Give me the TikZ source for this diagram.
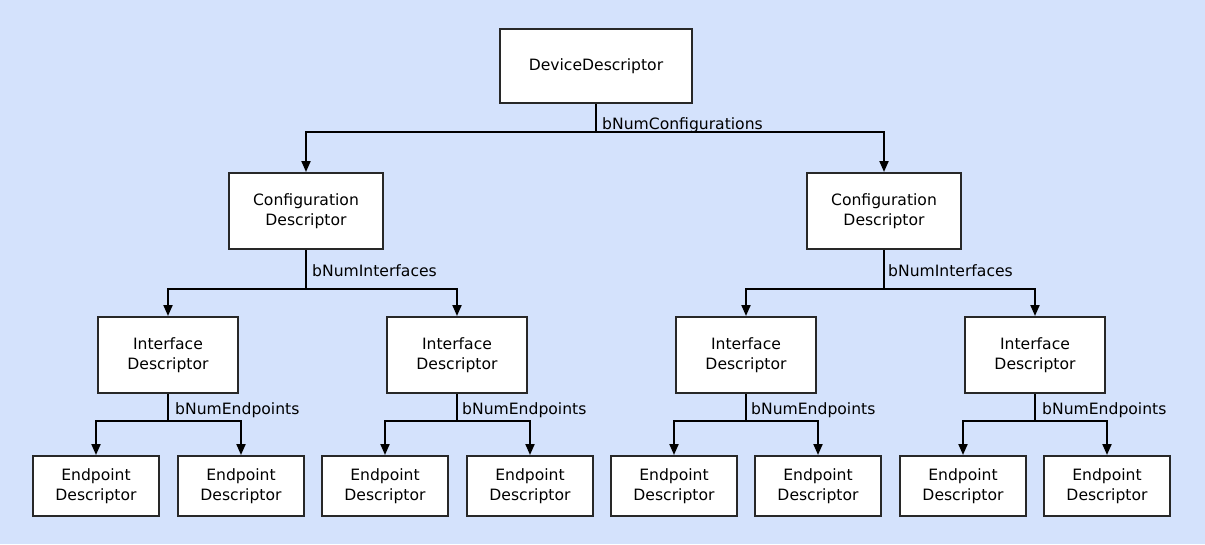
\documentclass[tikz,border=0pt]{standalone}
\usepackage{fontspec}
\usetikzlibrary{calc,arrows.meta}
\newfontfamily\descfont{DejaVu Sans}
\definecolor{paneblue}{RGB}{212,226,252}
\definecolor{boxline}{RGB}{40,40,40}

\begin{document}
\begin{tikzpicture}[x=1pt,y=-1pt,
		desc/.style={draw=boxline,line width=2pt,fill=white,inner sep=0pt,align=center,
			font=\descfont\fontsize{15.6}{20.5}\selectfont},
		devbox/.style={desc,minimum width=192pt,minimum height=74pt},
		cfgbox/.style={desc,minimum width=154pt,minimum height=76pt},
		ifcbox/.style={desc,minimum width=140pt,minimum height=76pt},
		epbox/.style={desc,minimum width=126pt,minimum height=60pt},
		link/.style={line width=2pt},
		arr/.style={link,-{Triangle[width=9pt,length=11pt]}},
		numlbl/.style={anchor=base west,inner sep=0pt,font=\descfont\fontsize{15.6}{18}\selectfont}]
			\fill[paneblue] (0,0) rectangle (1205,544);
			\useasboundingbox (0,0) rectangle (1205,544);
			
			% boxes
			\node[devbox] (dev) at (596,66) {DeviceDescriptor};
			\node[cfgbox] (cfgL) at (306,211) {Configuration\\Descriptor};
			\node[cfgbox] (cfgR) at (884,211) {Configuration\\Descriptor};
			
			\node[ifcbox] (ifc1) at (168,355) {Interface\\Descriptor};
			\node[ifcbox] (ifc2) at (457,355) {Interface\\Descriptor};
			\node[ifcbox] (ifc3) at (746,355) {Interface\\Descriptor};
			\node[ifcbox] (ifc4) at (1035,355) {Interface\\Descriptor};
			
			\node[epbox] (ep1) at (96,486) {Endpoint\\Descriptor};
			\node[epbox] (ep2) at (241,486) {Endpoint\\Descriptor};
			\node[epbox] (ep3) at (385,486) {Endpoint\\Descriptor};
			\node[epbox] (ep4) at (530,486) {Endpoint\\Descriptor};
			\node[epbox] (ep5) at (674,486) {Endpoint\\Descriptor};
			\node[epbox] (ep6) at (818,486) {Endpoint\\Descriptor};
			\node[epbox] (ep7) at (963,486) {Endpoint\\Descriptor};
			\node[epbox] (ep8) at (1107,486) {Endpoint\\Descriptor};
			
			% device -> configurations
			\coordinate (busD) at (596,132);
			\draw[link] (dev) -- (busD);
			\draw[arr] (busD) -| (cfgL);
			\draw[arr] (busD) -| (cfgR);
			\node[numlbl] (nConf) at ($(busD)+(6,-3)$) {bNumConfigurations};
			
			% configurations -> interfaces
			\coordinate (busCL) at (306,289);
			\draw[link] (cfgL) -- (busCL);
			\draw[arr] (busCL) -| (ifc1);
			\draw[arr] (busCL) -| (ifc2);
			\node[numlbl] (nIfcL) at ($(busCL)+(6,-13)$) {bNumInterfaces};
			
			\coordinate (busCR) at (884,289);
			\draw[link] (cfgR) -- (busCR);
			\draw[arr] (busCR) -| (ifc3);
			\draw[arr] (busCR) -| (ifc4);
			\node[numlbl] (nIfcR) at ($(busCR)+(4,-13)$) {bNumInterfaces};
			
			% interfaces -> endpoints
			\coordinate (busI1) at (168,421);
			\draw[link] (ifc1) -- (busI1);
			\draw[arr] (busI1) -| (ep1);
			\draw[arr] (busI1) -| (ep2);
			\node[numlbl] (nEp1) at ($(busI1)+(7,-7)$) {bNumEndpoints};
			
			\coordinate (busI2) at (457,421);
			\draw[link] (ifc2) -- (busI2);
			\draw[arr] (busI2) -| (ep3);
			\draw[arr] (busI2) -| (ep4);
			\node[numlbl] (nEp2) at ($(busI2)+(5,-7)$) {bNumEndpoints};
			
			\coordinate (busI3) at (746,421);
			\draw[link] (ifc3) -- (busI3);
			\draw[arr] (busI3) -| (ep5);
			\draw[arr] (busI3) -| (ep6);
			\node[numlbl] (nEp3) at ($(busI3)+(5,-7)$) {bNumEndpoints};
			
			\coordinate (busI4) at (1035,421);
			\draw[link] (ifc4) -- (busI4);
			\draw[arr] (busI4) -| (ep7);
			\draw[arr] (busI4) -| (ep8);
			\node[numlbl] (nEp4) at ($(busI4)+(7,-7)$) {bNumEndpoints};
		\end{tikzpicture}
\end{document}
